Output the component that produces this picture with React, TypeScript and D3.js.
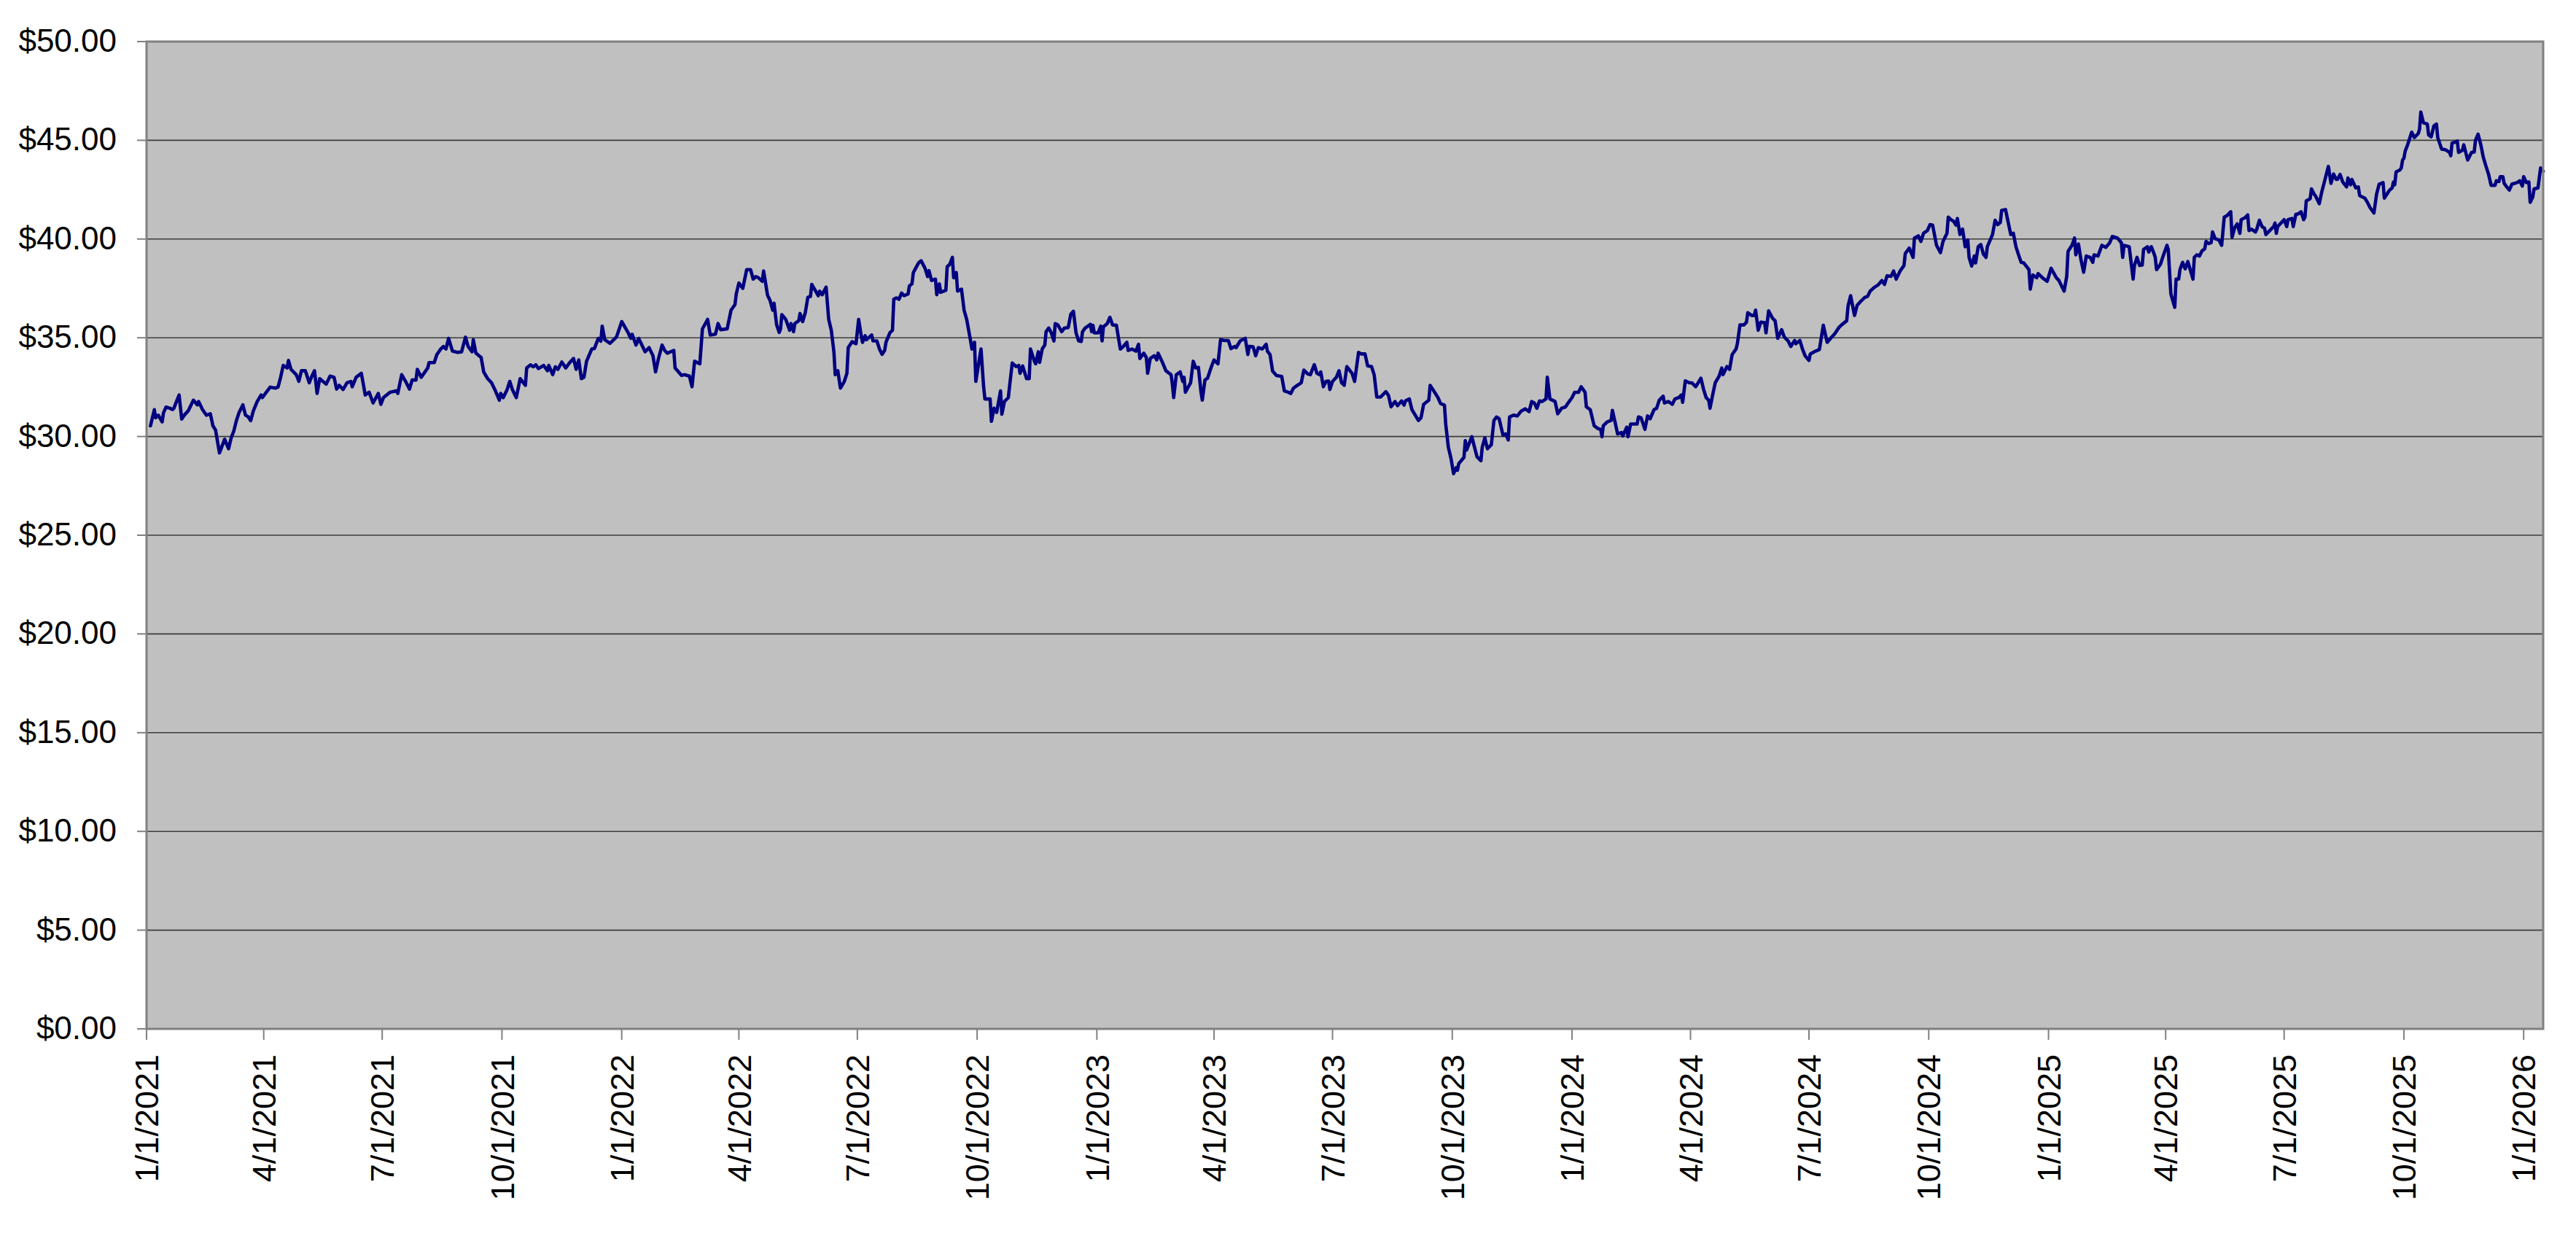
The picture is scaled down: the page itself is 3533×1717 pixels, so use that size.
import * as d3 from 'd3';

// Daily close. Days are counted from 1/1/2021.
const START_DATE = '2021-01-01';
const END_DATE = '2026-01-16';

const dayOffsets = [
  3, 6, 7, 9, 12, 13, 15, 18, 20, 21, 23, 25, 27, 29, 32, 36, 39, 40, 43, 46, 49, 51, 53, 56, 60, 63, 65, 67, 69, 71, 74, 76, 78, 80, 82, 85, 88, 89, 92, 95, 99, 101, 103, 105, 108, 109, 111, 115, 117, 119, 122, 125, 127, 129, 131, 133, 138, 141, 144, 146, 148, 151, 154, 157, 158, 161, 165, 168, 171, 174, 178, 180, 182, 187, 192, 193, 196, 199, 202, 204, 207, 208, 211, 216, 217, 221, 223,
  226, 228, 230, 232, 235, 239, 242, 245, 247, 250, 251, 253, 257, 259, 262, 265, 268, 271, 272, 274, 277, 279, 281, 284, 287, 291, 292, 295, 297, 299, 301, 305, 308, 309, 312, 314, 316, 319, 322, 325, 328, 330, 332, 334, 336, 338, 342, 344, 347, 349, 350, 352, 356, 361, 365, 370, 372, 373, 376, 378, 383, 386, 389, 391, 393, 396, 398, 400, 405, 406, 411, 413, 417, 419, 421, 425, 427, 431, 433, 437, 439, 441, 446, 449, 452, 453, 455, 458,
  461, 464, 466, 468, 470, 473, 474, 477, 479, 481, 482, 484, 486, 487, 488, 491, 494, 495, 497, 498, 501, 502, 504, 506, 508, 510, 511, 516, 517, 519, 522, 524, 526, 528, 529, 531, 533, 536, 538, 539, 542, 545, 547, 549, 550, 552, 553, 557, 558, 561, 563, 565, 567, 568, 571, 573, 574, 576, 578, 580, 582, 585, 586, 588, 589, 593, 595, 598, 600, 601, 603, 606, 607, 609, 610, 614, 615, 617, 619, 620, 622, 623, 626, 628, 630, 633, 634, 636, 637, 641, 643, 644, 648, 649, 651, 653, 656, 657, 659, 662, 663, 665, 668, 670, 671, 673, 676, 678, 679, 682, 683, 685, 686, 688, 690, 691,
  693, 695, 697, 698, 700, 703, 705, 708, 710, 712, 714, 716, 718, 719, 721, 725, 726, 727, 728, 731, 733, 734, 735, 738, 740, 742, 745, 748, 750, 753, 754, 757, 760, 762, 763, 766, 768, 769, 771, 774, 776, 777, 780, 783, 787, 788, 789, 791, 794, 796, 797, 798, 802, 804, 806, 808, 810, 811, 813, 815, 818, 820, 823, 825, 828, 831, 833, 836, 837, 840, 844, 846, 847, 850, 852, 854, 857, 860, 861, 863, 865, 868, 872, 874, 877, 879, 881, 884, 887, 889, 892, 894, 897, 899, 901, 902, 904, 906, 908, 909, 911, 914, 916, 918, 920,
  922, 926, 928, 931, 933, 936, 938, 941, 943, 945, 948, 952, 954, 956, 959, 961, 964, 966, 967, 970, 972, 977, 979, 981, 985, 986, 990, 992, 994, 997, 998, 1000, 1002, 1004, 1006, 1007, 1008, 1012, 1013, 1014, 1018, 1022, 1025, 1026, 1028, 1030, 1033, 1035, 1037, 1039, 1042, 1044, 1046, 1047, 1050, 1053, 1056, 1059, 1062, 1064, 1066, 1068, 1070, 1072, 1075, 1076, 1078, 1082, 1084, 1087, 1090, 1092, 1095, 1097, 1100, 1102, 1105, 1106, 1109, 1112, 1115, 1117, 1118, 1119, 1122, 1125, 1126, 1128, 1130, 1133, 1134, 1137, 1138, 1140, 1142, 1145, 1146, 1148, 1151,
  1153, 1155, 1158, 1160, 1162, 1165, 1166, 1169, 1172, 1174, 1177, 1179, 1180, 1182, 1185, 1187, 1190, 1194, 1196, 1198, 1200, 1201, 1203, 1205, 1208, 1210, 1211, 1214, 1216, 1218, 1221, 1222, 1224, 1227, 1229, 1230, 1233, 1235, 1236, 1238, 1240, 1243, 1244, 1246, 1249, 1251, 1253, 1256, 1258, 1261, 1263, 1266, 1267, 1270, 1272, 1274, 1277, 1278, 1281, 1285, 1288, 1291, 1294, 1297, 1300, 1302, 1306, 1307, 1309, 1312, 1314, 1317, 1320, 1322, 1324, 1327, 1330, 1333, 1335, 1337, 1340, 1342, 1344, 1347, 1350, 1351, 1354, 1357, 1358, 1361, 1363, 1365, 1368, 1370, 1372, 1375, 1378,
  1380, 1383, 1384, 1386, 1388, 1390, 1391, 1393, 1395, 1397, 1399, 1400, 1402, 1404, 1405, 1407, 1409, 1411, 1413, 1414, 1418, 1420, 1422, 1424, 1425, 1428, 1432, 1434, 1436, 1438, 1440, 1442, 1446, 1447, 1449, 1452, 1453, 1457, 1460, 1463, 1467, 1469, 1473, 1475, 1476, 1479, 1481, 1482, 1484, 1486, 1488, 1490, 1493, 1495, 1496, 1499, 1502, 1505, 1508, 1510, 1514, 1517, 1518, 1519, 1523, 1526, 1527, 1529, 1531, 1533, 1534, 1537, 1538, 1540, 1542, 1543, 1544, 1547, 1549, 1552, 1553, 1555, 1558, 1559, 1561, 1562, 1564, 1566, 1568, 1572, 1573, 1575, 1577, 1579, 1581, 1582, 1584, 1586, 1587, 1589, 1592, 1594, 1596, 1598, 1601, 1602, 1604, 1606,
  1608, 1609, 1612, 1614, 1615, 1617, 1620, 1621, 1623, 1625, 1627, 1628, 1631, 1634, 1635, 1636, 1637, 1640, 1642, 1644, 1645, 1648, 1649, 1651, 1653, 1655, 1657, 1658, 1659, 1662, 1663, 1665, 1666, 1669, 1671, 1673, 1676, 1678, 1680, 1682, 1683, 1685, 1687, 1690, 1691, 1693, 1694, 1697, 1699, 1700, 1704, 1706, 1708, 1711, 1713, 1715, 1718, 1719, 1721, 1723, 1725, 1726, 1727, 1728, 1731, 1732, 1733, 1734, 1735, 1737, 1740, 1742, 1745, 1746, 1747, 1749, 1752, 1753, 1755, 1757, 1759, 1760, 1763, 1766, 1769, 1770, 1771, 1773, 1775, 1776, 1779, 1780, 1783, 1786, 1788, 1789, 1791, 1793, 1795, 1797, 1799, 1801, 1804, 1805, 1807, 1808, 1810, 1811, 1813, 1815, 1817, 1821, 1823, 1825, 1826, 1828, 1830, 1831, 1833, 1834, 1837, 1839, 1841,
];

const closes = [
  30.54, 31.36, 30.95, 31.08, 30.74, 31.2, 31.49, 31.43, 31.36, 31.43, 31.77, 32.1, 30.88, 31.08, 31.3, 31.84, 31.6, 31.77, 31.36, 31.08, 31.15, 30.54, 30.33, 29.17, 29.86, 29.38, 29.93, 30.27, 30.8, 31.2, 31.6, 31.08, 31.0, 30.8, 31.29, 31.77, 32.1, 31.97, 32.24, 32.5, 32.45, 32.5, 33.0, 33.6, 33.47, 33.85, 33.4, 33.13, 32.8, 33.33, 33.33, 32.72, 33.06, 33.33, 32.18, 32.93, 32.65, 33.06, 33.0, 32.4, 32.59, 32.38, 32.72, 32.79, 32.52, 33.0, 33.2, 32.1, 32.24, 31.7, 32.18, 31.63, 31.97, 32.24, 32.31, 32.18, 33.13, 32.79, 32.4, 32.86, 32.86, 33.4, 33.0, 33.47, 33.74, 33.74, 34.15,
  34.43, 34.56, 34.43, 34.97, 34.32, 34.26, 34.29, 35.03, 34.56, 34.29, 34.9, 34.22, 34.0, 33.27, 32.93, 32.72, 32.31, 31.84, 32.18, 31.97, 32.38, 32.79, 32.38, 31.97, 32.93, 32.59, 33.47, 33.63, 33.53, 33.63, 33.44, 33.6, 33.33, 33.6, 33.13, 33.53, 33.4, 33.77, 33.47, 33.74, 33.95, 33.4, 33.88, 32.93, 33.0, 33.81, 34.43, 34.45, 34.97, 34.83, 35.59, 34.9, 34.72, 35.04, 35.82, 35.25, 34.97, 35.18, 34.63, 34.97, 34.29, 34.5, 34.09, 33.27, 33.88, 34.63, 34.36, 34.22, 34.36, 33.47, 33.09, 33.13, 33.06, 32.52, 33.81, 33.68, 35.45, 35.93, 35.14, 35.18, 35.72, 35.41, 35.45, 36.4, 36.68, 37.22, 37.77, 37.5,
  38.45, 38.45, 37.97, 38.1, 38.04, 37.86, 38.38, 37.16, 36.88, 36.4, 36.75, 35.65, 35.27, 35.45, 36.17, 35.93, 35.38, 35.72, 35.31, 35.72, 35.86, 36.23, 35.82, 36.27, 37.05, 37.09, 37.7, 37.13, 37.36, 37.18, 37.56, 35.93, 35.38, 34.29, 33.13, 33.33, 32.45, 32.79, 33.2, 34.5, 34.8, 34.7, 35.93, 35.1, 34.77, 35.1, 34.9, 35.14, 34.84, 34.84, 34.43, 34.16, 34.36, 34.77, 35.25, 35.38, 36.95, 37.02, 36.95, 37.26, 37.13, 37.22, 37.63, 37.73, 38.3, 38.79, 38.9, 38.52, 38.1, 38.4, 37.9, 37.97, 37.18, 37.73, 37.3, 37.4, 38.6, 38.72, 39.07, 38.04, 38.3, 37.36, 37.46, 36.4, 35.93, 34.84, 34.43, 34.77, 32.79, 34.43, 32.52, 31.9, 31.9, 30.77, 31.43, 31.22, 32.31, 31.13, 31.77, 31.97, 32.59, 33.72, 33.54, 33.6, 33.2, 33.57, 32.93, 32.93, 34.43, 33.81, 33.68, 34.29, 33.75, 34.43, 34.63, 35.31,
  35.49, 35.25, 34.84, 35.72, 35.65, 35.31, 35.49, 35.52, 36.2, 36.34, 35.25, 34.84, 34.81, 35.31, 35.49, 35.68, 35.31, 35.63, 35.25, 35.25, 35.59, 34.84, 35.55, 35.72, 36.04, 35.65, 35.63, 34.43, 34.54, 34.77, 34.36, 34.43, 34.32, 34.67, 33.95, 34.22, 34.0, 33.2, 33.95, 34.09, 33.88, 34.22, 33.81, 33.33, 33.13, 32.65, 31.97, 33.13, 33.27, 32.79, 33.0, 32.24, 32.72, 33.81, 33.47, 33.5, 32.24, 31.84, 32.86, 32.95, 33.54, 33.88, 33.68, 34.9, 34.86, 34.86, 34.45, 34.56, 34.5, 34.84, 34.97, 34.15, 34.56, 34.54, 34.09, 34.5, 34.43, 34.67, 34.32, 34.15, 33.31, 33.09, 33.04, 32.31, 32.24, 32.18, 32.45, 32.59, 32.72, 33.36, 33.17, 33.13, 33.64, 33.2, 33.13, 33.27, 32.52, 32.79, 32.81, 32.38, 32.79, 33.0, 33.33, 32.72, 32.59,
  33.54, 33.2, 32.79, 34.26, 34.18, 34.18, 33.58, 33.54, 33.13, 32.0, 32.0, 32.27, 32.08, 31.5, 31.77, 31.56, 31.8, 31.59, 31.8, 31.9, 31.36, 30.81, 30.95, 31.63, 31.84, 32.59, 32.18, 31.97, 31.67, 31.59, 30.6, 29.45, 28.9, 28.12, 28.42, 28.29, 28.63, 28.94, 29.79, 29.31, 29.99, 28.97, 28.77, 29.45, 29.93, 29.38, 29.58, 30.81, 30.99, 30.9, 30.06, 30.13, 29.82, 30.99, 31.08, 31.04, 31.29, 31.4, 31.26, 31.77, 31.7, 31.43, 31.8, 31.77, 31.9, 33.0, 31.9, 31.77, 31.15, 31.43, 31.5, 31.7, 31.97, 32.24, 32.24, 32.52, 32.24, 31.5, 31.36, 30.54, 30.4, 30.36, 29.99, 30.54, 30.74, 30.81, 31.32, 30.74, 30.13, 30.2, 30.03, 30.47, 29.99, 30.63, 30.63, 30.63, 30.99, 30.95, 30.36,
  31.04, 30.9, 31.36, 31.43, 31.84, 32.04, 31.7, 31.77, 31.63, 31.9, 31.97, 32.1, 31.73, 32.82, 32.72, 32.72, 32.52, 32.95, 32.4, 31.97, 31.84, 31.43, 32.1, 32.72, 33.06, 33.47, 33.13, 33.54, 33.4, 34.15, 34.43, 34.7, 35.65, 35.65, 35.79, 36.27, 36.13, 36.13, 36.4, 35.38, 35.79, 35.76, 35.25, 36.36, 35.99, 35.86, 34.97, 35.41, 35.04, 34.84, 34.56, 34.86, 34.7, 34.86, 34.43, 34.09, 33.85, 34.18, 34.29, 34.4, 35.63, 34.77, 35.0, 35.22, 35.52, 35.65, 35.86, 36.6, 37.13, 36.13, 36.64, 36.86, 37.05, 37.09, 37.36, 37.54, 37.67, 37.9, 37.7, 38.14, 38.11, 38.38, 37.97, 38.38, 38.66, 39.27, 39.54, 39.07, 40.05, 40.16, 39.88, 40.29, 40.43, 40.73, 40.7, 39.68, 39.31,
  39.88, 40.29, 41.11, 40.98, 40.91, 40.7, 41.04, 40.23, 40.5, 39.61, 39.95, 39.07, 38.63, 39.14, 38.79, 39.61, 39.72, 39.23, 39.07, 39.61, 40.23, 40.95, 40.73, 40.84, 41.45, 41.49, 40.23, 40.29, 39.61, 39.2, 38.82, 38.79, 38.45, 37.46, 38.18, 38.04, 38.25, 38.0, 37.86, 38.52, 38.04, 37.9, 37.36, 38.11, 39.37, 39.68, 40.05, 39.2, 39.75, 38.93, 38.32, 39.14, 39.07, 38.82, 39.2, 39.14, 39.68, 39.58, 39.81, 40.13, 40.05, 39.81, 39.07, 39.68, 39.61, 37.97, 38.66, 39.07, 38.66, 38.68, 39.47, 39.61, 39.34, 39.61, 39.27, 39.07, 38.45, 38.72, 39.13, 39.68, 39.47, 37.22, 36.54, 37.97, 37.97, 38.45, 38.82, 38.49, 38.86, 37.97, 39.07, 39.2, 39.14, 39.41, 39.5, 39.88, 39.77, 39.82, 40.36, 40.02, 39.95, 39.68, 41.11, 41.18, 41.38, 40.09, 40.57, 40.77,
  40.29, 40.98, 41.08, 41.22, 40.43, 40.5, 40.36, 40.5, 40.95, 40.63, 40.54, 40.23, 40.43, 40.63, 40.81, 40.29, 40.63, 40.84, 40.98, 40.63, 40.98, 41.04, 40.63, 41.25, 41.28, 41.38, 40.98, 41.11, 41.93, 42.04, 42.54, 42.27, 42.2, 41.79, 42.41, 42.91, 43.68, 42.82, 43.29, 43.02, 43.02, 43.27, 42.89, 42.64, 43.09, 42.75, 43.02, 42.59, 42.64, 42.2, 42.07, 41.86, 41.59, 41.32, 42.27, 42.78, 42.86, 42.07, 42.27, 42.48, 42.59, 42.89, 42.75, 43.4, 43.5, 43.6, 44.0, 44.09, 44.45, 44.8, 45.41, 45.14, 45.34, 45.55, 46.43, 45.89, 45.82, 45.27, 45.18, 45.72, 45.82, 45.14, 44.55, 44.52, 44.39, 44.22, 44.86, 44.9, 44.96, 44.39, 44.5, 44.77, 44.0, 44.39, 44.41, 45.0, 45.31, 44.8, 44.14, 43.7, 43.29, 42.72, 42.72, 42.95, 42.91, 43.16, 43.16, 42.82, 42.64, 42.48, 42.78, 42.86, 42.95, 42.68, 43.16, 42.86, 42.89, 41.86, 42.13, 42.54, 42.59, 43.6, 43.43,
];

const yTicks = [0, 5, 10, 15, 20, 25, 30, 35, 40, 45, 50];

const W = 3533;
const H = 1717;
const PLOT = { left: 201, right: 3488, top: 57, bottom: 1411 };
const FONT = '"Liberation Sans", Arial, Helvetica, sans-serif';

interface Point {
  date: Date;
  close: number;
}

export default function App() {
  const start = new Date(START_DATE + 'T00:00:00Z');
  const end = new Date(END_DATE + 'T00:00:00Z');

  const points: Point[] = dayOffsets.map((d, i) => ({
    date: d3.utcDay.offset(start, d),
    close: closes[i],
  }));

  const x = d3.scaleUtc().domain([start, end]).range([PLOT.left, PLOT.right]);
  const y = d3.scaleLinear().domain([0, 50]).range([PLOT.bottom, PLOT.top]);

  // quarterly ticks: 1/1, 4/1, 7/1, 10/1
  const xTicks = d3.utcMonth.every(3)!.range(start, d3.utcDay.offset(end, 1));
  const fmtDate = d3.utcFormat('%-m/%-d/%Y');
  const fmtMoney = d3.format('$,.2f');

  const line = d3
    .line<Point>()
    .x((d) => x(d.date))
    .y((d) => y(d.close));

  return (
    <svg width={W} height={H} style={{ display: 'block', background: '#fff' }}>
      <style>{'body{margin:0}'}</style>

      {/* plot area */}
      <rect
        x={PLOT.left}
        y={PLOT.top}
        width={PLOT.right - PLOT.left}
        height={PLOT.bottom - PLOT.top}
        fill="#c0c0c0"
      />

      {/* grid lines */}
      {yTicks.slice(1, -1).map((t) => (
        <line
          key={'g' + t}
          x1={PLOT.left}
          x2={PLOT.right}
          y1={y(t)}
          y2={y(t)}
          stroke="#3c3c3c"
          strokeWidth={1.6}
        />
      ))}

      {/* price line */}
      <path
        d={line(points) ?? ''}
        fill="none"
        stroke="#000080"
        strokeWidth={4.6}
        strokeLinejoin="round"
        strokeLinecap="round"
      />

      {/* border */}
      <rect
        x={PLOT.left}
        y={PLOT.top}
        width={PLOT.right - PLOT.left}
        height={PLOT.bottom - PLOT.top}
        fill="none"
        stroke="#808080"
        strokeWidth={3}
      />

      {/* y axis */}
      {yTicks.map((t) => (
        <g key={'y' + t}>
          <line x1={PLOT.left - 13} x2={PLOT.left} y1={y(t)} y2={y(t)} stroke="#808080" strokeWidth={2} />
          <text
            x={160}
            y={y(t) + 14}
            textAnchor="end"
            fontFamily={FONT}
            fontSize={44}
            fill="#000"
          >
            {fmtMoney(t)}
          </text>
        </g>
      ))}

      {/* x axis */}
      {xTicks.map((d) => (
        <g key={d.toISOString()}>
          <line x1={x(d)} x2={x(d)} y1={PLOT.bottom} y2={PLOT.bottom + 15} stroke="#808080" strokeWidth={2} />
          <text
            transform={`translate(${x(d)},${PLOT.bottom + 35}) rotate(-90)`}
            textAnchor="end"
            dy="0.36em"
            fontFamily={FONT}
            fontSize={45}
            fill="#000"
          >
            {fmtDate(d)}
          </text>
        </g>
      ))}
    </svg>
  );
}
